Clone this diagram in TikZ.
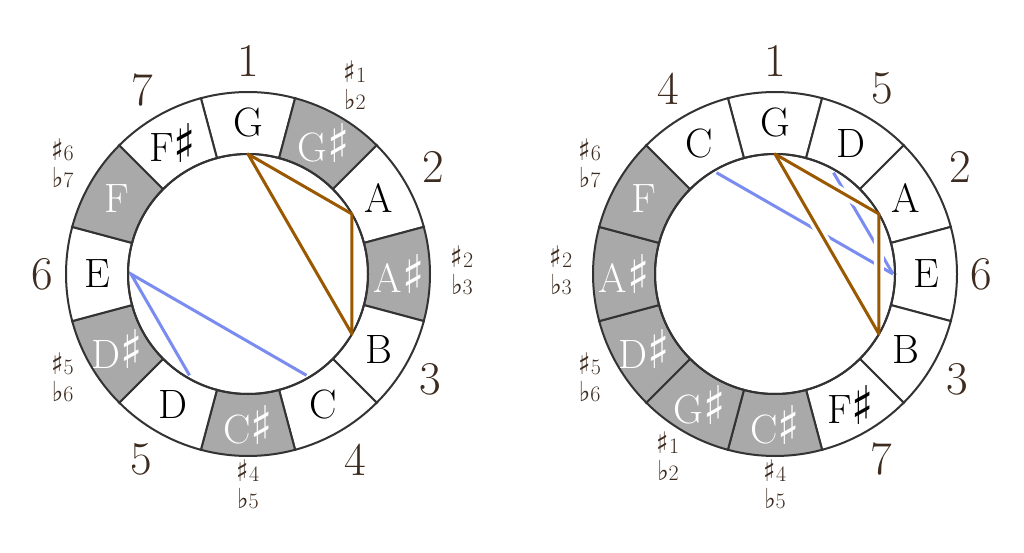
\documentclass[tikz,border=0pt]{standalone}
\usepackage{fontspec}
\usepackage{graphicx}
\newfontfamily\symfont{DejaVu Sans}
\newcommand{\shp}{{\symfont\raisebox{-0.02em}{\scalebox{1.12}[1.3]{♯}}}}
\newcommand{\shpsm}{{\symfont\smash{\scalebox{1.15}[1.35]{♯}}}}
\newcommand{\flt}{{\symfont\smash{\scalebox{1.1}[1.25]{♭}}}}
\definecolor{cellgray}{HTML}{A9A9A9}
\definecolor{edge}{HTML}{333333}
\definecolor{numbrown}{HTML}{3D2B1F}
\definecolor{tribrown}{HTML}{9A5800}
\definecolor{lineblue}{HTML}{7A8CF0}
\tikzset{
  cell/.style={draw=edge, line width=2pt, line join=miter},
  note/.style={font=\fontsize{41}{41}\selectfont, inner sep=0pt},
  degnum/.style={font=\fontsize{47}{47}\selectfont, text=numbrown, inner sep=0pt},
  acc/.style={font=\fontsize{22}{27}\selectfont, text=numbrown, align=center, inner sep=0pt},
  triline/.style={draw=tribrown, line width=3pt, line join=round},
  halo/.style={draw=white, line width=10pt},
  blueline/.style={draw=lineblue, line width=3pt},
  ringline/.style={draw=edge, line width=2pt}
}
\begin{document}
\begin{tikzpicture}[x=1pt,y=1pt]
\useasboundingbox (0,0) rectangle (1024,552);
\fill[white] (0,0) rectangle (1024,552);

% ---------------- Left ring (chromatic) ----------------
\begin{scope}[shift={(248,278)}]
\foreach \k/\n/\fc/\tc in {0/G/white/black, 1/{G\shp}/cellgray/white, 2/A/white/black, 3/{A\shp}/cellgray/white, 4/B/white/black, 5/C/white/black, 6/{C\shp}/cellgray/white, 7/D/white/black, 8/{D\shp}/cellgray/white, 9/E/white/black, 10/F/cellgray/white, 11/{F\shp}/white/black}{
  \pgfmathsetmacro\a{90-30*\k}
  \draw[cell, fill=\fc] (\a+15:120pt) -- (\a+15:182pt) arc[start angle=\a+15, end angle=\a-15, radius=182pt] -- (\a-15:120pt) arc[start angle=\a-15, end angle=\a+15, radius=120pt] -- cycle;
  \node[note, text=\tc] (Ln\k) at (\a:151pt) {\n};
}
\foreach \a/\t/\r in {90/1/213, 30/2/214, -30/3/211, -60/4/214, -120/5/214, 180/6/206, 120/7/212}{
  \node[degnum] (Ld\t) at (\a:\r pt) {\t};
}
\foreach \a/\s/\f in {60/1/2, 0/2/3, -90/4/5, -150/5/6, 150/6/7}{
  \node[acc] (La\s) at (\a:214pt) {\shpsm\s\\\flt\f};
}
\coordinate (LG) at (90:120pt);
\coordinate (LA) at (30:120pt);
\coordinate (LB) at (-30:120pt);
\coordinate (LE) at (180:117pt);
\coordinate (LD) at (-120:117pt);
\coordinate (LC) at (-60:117pt);
\draw[blueline] (LD) -- (LE) -- (LC);
\begin{scope}
  \clip (0,0) circle[radius=119pt];
  \draw[halo] (LG) -- (LA) -- (LB) -- cycle;
\end{scope}
\draw[ringline] (0,0) circle[radius=120pt];
\draw[triline] (LG) -- (LA) -- (LB) -- cycle;
\end{scope}

% ---------------- Right ring (fifths) ----------------
\begin{scope}[shift={(775,278)}]
\foreach \k/\n/\fc/\tc in {0/G/white/black, 1/D/white/black, 2/A/white/black, 3/E/white/black, 4/B/white/black, 5/{F\shp}/white/black, 6/{C\shp}/cellgray/white, 7/{G\shp}/cellgray/white, 8/{D\shp}/cellgray/white, 9/{A\shp}/cellgray/white, 10/F/cellgray/white, 11/C/white/black}{
  \pgfmathsetmacro\a{90-30*\k}
  \draw[cell, fill=\fc] (\a+15:120pt) -- (\a+15:182pt) arc[start angle=\a+15, end angle=\a-15, radius=182pt] -- (\a-15:120pt) arc[start angle=\a-15, end angle=\a+15, radius=120pt] -- cycle;
  \node[note, text=\tc] (Rn\k) at (\a:151pt) {\n};
}
\foreach \a/\t/\r in {90/1/213, 60/5/214, 30/2/214, 0/6/206, -30/3/211, -60/7/213, 120/4/214}{
  \node[degnum] (Rd\t) at (\a:\r pt) {\t};
}
\foreach \a/\s/\f in {-120/1/2, 180/2/3, -90/4/5, -150/5/6, 150/6/7}{
  \node[acc] (Ra\s) at (\a:214pt) {\shpsm\s\\\flt\f};
}
\coordinate (RG) at (90:120pt);
\coordinate (RA) at (30:120pt);
\coordinate (RB) at (-30:120pt);
\coordinate (RE) at (0:118pt);
\coordinate (RC) at (120:117pt);
\coordinate (RD) at (60:117pt);
\draw[blueline] (RC) -- (RE);
\draw[blueline] (RD) -- (RE);
\begin{scope}
  \clip (0,0) circle[radius=119pt];
  \draw[halo] (RG) -- (RA) -- (RB) -- cycle;
\end{scope}
\draw[ringline] (0,0) circle[radius=120pt];
\draw[triline] (RG) -- (RA) -- (RB) -- cycle;
\end{scope}
\end{tikzpicture}
\end{document}
